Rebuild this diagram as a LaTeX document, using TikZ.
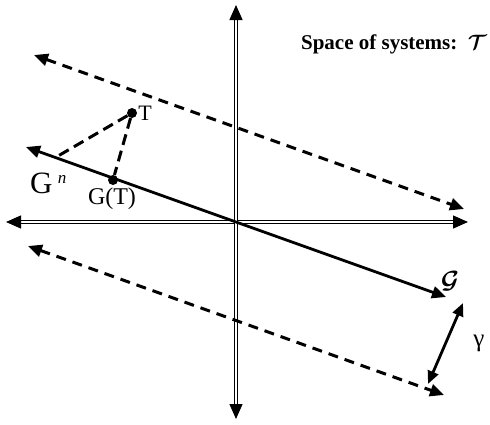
\documentclass[tikz,border=0pt]{standalone}
\usepackage{amsmath}
\usepackage{amssymb}
\usepackage{bm}
\usepackage{fontspec}
\setmainfont{Liberation Serif}
\usetikzlibrary{arrows.meta,calc,positioning}
\tikzset{
  axis line/.style  = {-{Triangle[length=15pt,width=13pt]}, double, line width=1.2pt,
                       double distance=1.8pt},
  gline/.style      = {{Triangle[length=14pt,width=12pt]}-{Triangle[length=14pt,width=12pt]},
                       line width=2.8pt},
  shiftline/.style  = {{Triangle[length=14pt,width=12pt]}-{Triangle[length=14pt,width=12pt]},
                       line width=3pt, dash pattern=on 10pt off 7pt},
  gapline/.style    = {{Triangle[length=13pt,width=11pt]}-{Triangle[length=13pt,width=11pt]},
                       line width=2.8pt},
  proj/.style       = {line width=3pt, dash pattern=on 11pt off 6pt},
  pt dot/.style     = {circle, fill=black, inner sep=0pt, minimum size=10pt},
  lab/.style        = {font=\fontsize{22}{24}\selectfont, inner sep=1pt},
}

\begin{document}
\begin{tikzpicture}[x=1pt,y=-1pt]
  \useasboundingbox (0,0) rectangle (490,424);

  % axes
  \coordinate (O)     at (236,222);
  \coordinate (Xleft) at (6,222);
  \coordinate (Xright)at (468,222);
  \coordinate (Ytop)  at (236,5);
  \coordinate (Ybot)  at (236,419);
  \draw[axis line] (O) -- (Xleft);
  \draw[axis line] (O) -- (Xright);
  \draw[axis line] (O) -- (Ytop);
  \draw[axis line] (O) -- (Ybot);

  % the line G and its two shifted copies
  \coordinate (Gl) at (26,147);
  \coordinate (Gr) at (446,297);
  \coordinate (Ul) at (34,55);
  \coordinate (Ur) at (464,209);
  \coordinate (Ll) at (28,246);
  \coordinate (Lr) at (444,395);
  \draw[gline] (Gl) -- (Gr);
  \draw[shiftline] (Ul) -- (Ur);
  \draw[shiftline] (Ll) -- (Lr);

  % T and its projection
  \node[pt dot] (T)  at (132,113) {};
  \node[pt dot] (GT) at (113,180) {};
  \coordinate (Gn) at (58,156);
  \draw[proj] (T) -- (GT);
  \draw[proj] (T) -- (Gn);

  \node[lab, anchor=west] (Tlab) at (T.east) {T};
  \node[lab, font=\fontsize{24}{26}\selectfont] (GTlab) at (112,199) {G(T)};
  \node[lab, font=\fontsize{31}{32}\selectfont, anchor=south west] (Gnlab) at (29,195)
       {G\,\raisebox{10pt}{\fontsize{17}{18}\selectfont\textit{n}}};
  \node[lab, font=\fontsize{26}{28}\selectfont] (Glab) at (450,281) {$\bm{\mathcal{G}}$};

  % width gamma
  \coordinate (Ga) at (463,303);
  \coordinate (Gb) at (428,384);
  \draw[gapline] (Ga) -- (Gb);
  \node[lab, font=\fontsize{25}{26}\selectfont] (gamma) at (479,343) {γ};

  \node[anchor=east, inner sep=1pt, font=\fontsize{21}{23}\selectfont\bfseries] (space) at (488,44)
       {Space of systems:\ \ $\bm{\mathcal{T}}$};
\end{tikzpicture}
\end{document}
